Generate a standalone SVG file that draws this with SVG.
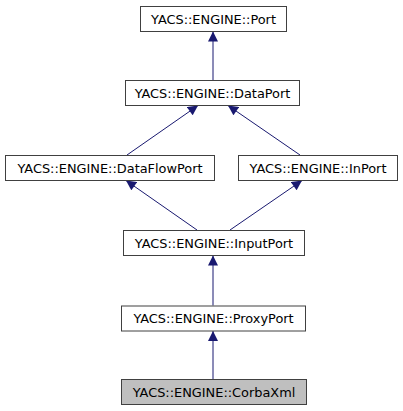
<svg xmlns="http://www.w3.org/2000/svg" width="403" height="411" viewBox="0 0 403 411">
<style>
.n rect{fill:#ffffff;stroke:#404040;stroke-width:1}
.n text{font-family:"DejaVu Sans",sans-serif;font-size:12.9px;fill:#000000;text-anchor:middle}
#corbaxml rect{fill:#bfbfbf}
.e{stroke:#191970;stroke-width:1;fill:none;marker-end:url(#ah)}
</style>
<defs>
<marker id="ah" markerUnits="userSpaceOnUse" viewBox="0 0 10 10" refX="10" refY="5" markerWidth="11" markerHeight="10" orient="auto">
<path d="M0,0 L10,5 L0,10 z" fill="#191970"/>
</marker>
</defs>
<rect width="403" height="411" fill="#ffffff"/>
<g id="edges">
<line class="e" x1="213" y1="80" x2="213" y2="31.5"/>
<line class="e" x1="127" y1="155" x2="198" y2="105.5"/>
<line class="e" x1="300" y1="155" x2="228" y2="105.5"/>
<line class="e" x1="197" y1="230" x2="126" y2="180.5"/>
<line class="e" x1="230" y1="230" x2="302" y2="180.5"/>
<line class="e" x1="213" y1="305.5" x2="213" y2="255.5"/>
<line class="e" x1="213" y1="379" x2="213" y2="331"/>
</g>
<g id="port" class="n"><rect x="140.5" y="6.5" width="146" height="25"/><text x="213.5" y="23.5">YACS::ENGINE::Port</text></g>
<g id="dataport" class="n"><rect x="125.5" y="80.5" width="174" height="25"/><text x="212.5" y="97.5">YACS::ENGINE::DataPort</text></g>
<g id="dataflowport" class="n"><rect x="5.5" y="155.5" width="209" height="25"/><text x="110" y="172.5">YACS::ENGINE::DataFlowPort</text></g>
<g id="inport" class="n"><rect x="238.5" y="155.5" width="159" height="25"/><text x="318" y="172.5">YACS::ENGINE::InPort</text></g>
<g id="inputport" class="n"><rect x="123.5" y="230.5" width="181" height="25"/><text x="214" y="247.5">YACS::ENGINE::InputPort</text></g>
<g id="proxyport" class="n"><rect x="121.5" y="306" width="184" height="25"/><text x="213.5" y="323">YACS::ENGINE::ProxyPort</text></g>
<g id="corbaxml" class="n"><rect x="121.5" y="379.5" width="185" height="25"/><text x="214" y="396.5">YACS::ENGINE::CorbaXml</text></g>
</svg>
